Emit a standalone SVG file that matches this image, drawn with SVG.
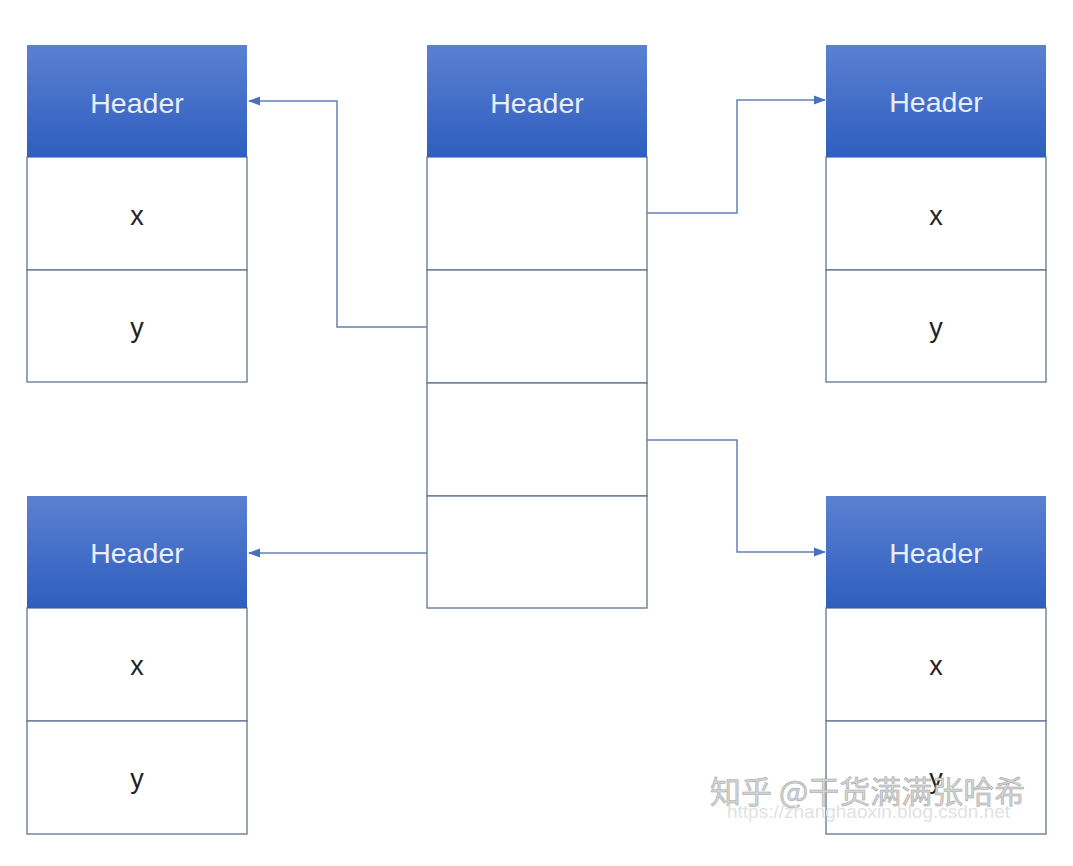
<svg xmlns="http://www.w3.org/2000/svg" width="1073" height="866" viewBox="0 0 1073 866">
<defs>
<linearGradient id="hg" x1="0" y1="0" x2="0" y2="1">
<stop offset="0" stop-color="#5b80d2"/>
<stop offset="1" stop-color="#2e5ebf"/>
</linearGradient>
<marker id="arr" markerWidth="12" markerHeight="12" refX="11" refY="6" orient="auto" markerUnits="userSpaceOnUse">
<path d="M0,1.5 L12,6 L0,10.5 Z" fill="#4a6fbf"/>
</marker>
<style>
.hdr{fill:url(#hg);}
.row{fill:#ffffff;stroke:#5f7590;stroke-width:1.3;}
.ht{font-family:"Liberation Sans",Arial,sans-serif;font-size:28.5px;fill:#e8eefb;text-anchor:middle;}
.rt{font-family:"Liberation Sans",Arial,sans-serif;font-size:27px;fill:#222;text-anchor:middle;}
.conn{fill:none;stroke:#6681b8;stroke-width:1.5;}
.wm{font-family:"Noto Sans CJK SC","Liberation Sans",sans-serif;font-size:31px;fill:#d4d4d4;stroke:#a0a0a0;stroke-width:0.5;}
.wu{font-family:"Liberation Sans",Arial,sans-serif;font-size:19px;fill:#e2e2e2;}
</style>
</defs>
<rect width="1073" height="866" fill="#ffffff"/>
<g id="node-left-top">
<rect class="row" x="27" y="157" width="220" height="113"/>
<rect class="row" x="27" y="270" width="220" height="112"/>
<rect class="hdr" x="27" y="45" width="220" height="112"/>
<text class="ht" x="137" y="113">Header</text>
<text class="rt" x="137" y="225">x</text>
<text class="rt" x="137" y="337">y</text>
</g>
<g id="node-center">
<rect class="row" x="427" y="157" width="220" height="113"/>
<rect class="row" x="427" y="270" width="220" height="113"/>
<rect class="row" x="427" y="383" width="220" height="113"/>
<rect class="row" x="427" y="496" width="220" height="112"/>
<rect class="hdr" x="427" y="45" width="220" height="112"/>
<text class="ht" x="537" y="113">Header</text>
</g>
<g id="node-right-top">
<rect class="row" x="826" y="157" width="220" height="113"/>
<rect class="row" x="826" y="270" width="220" height="112"/>
<rect class="hdr" x="826" y="45" width="220" height="112"/>
<text class="ht" x="936" y="112">Header</text>
<text class="rt" x="936" y="225">x</text>
<text class="rt" x="936" y="337">y</text>
</g>
<g id="node-left-bottom">
<rect class="row" x="27" y="608" width="220" height="113"/>
<rect class="row" x="27" y="721" width="220" height="113"/>
<rect class="hdr" x="27" y="496" width="220" height="112"/>
<text class="ht" x="137" y="563">Header</text>
<text class="rt" x="137" y="675">x</text>
<text class="rt" x="137" y="788">y</text>
</g>
<g id="node-right-bottom">
<rect class="row" x="826" y="608" width="220" height="113"/>
<rect class="row" x="826" y="721" width="220" height="113"/>
<rect class="hdr" x="826" y="496" width="220" height="112"/>
<text class="ht" x="936" y="563">Header</text>
<text class="rt" x="936" y="675">x</text>
<text class="rt" x="936" y="788">y</text>
</g>
<g id="connectors">
<path class="conn" d="M427,327 H337 V101 H249" marker-end="url(#arr)"/>
<path class="conn" d="M647,213 H737 V100 H825" marker-end="url(#arr)"/>
<path class="conn" d="M647,440 H737 V552 H825" marker-end="url(#arr)"/>
<path class="conn" d="M427,553 H249" marker-end="url(#arr)"/>
</g>
<g id="watermark">
<text class="wm" x="710" y="803">知乎 @干货满满张哈希</text>
<text class="wu" x="727" y="818">https://zhanghaoxin.blog.csdn.net</text>
</g>
</svg>
